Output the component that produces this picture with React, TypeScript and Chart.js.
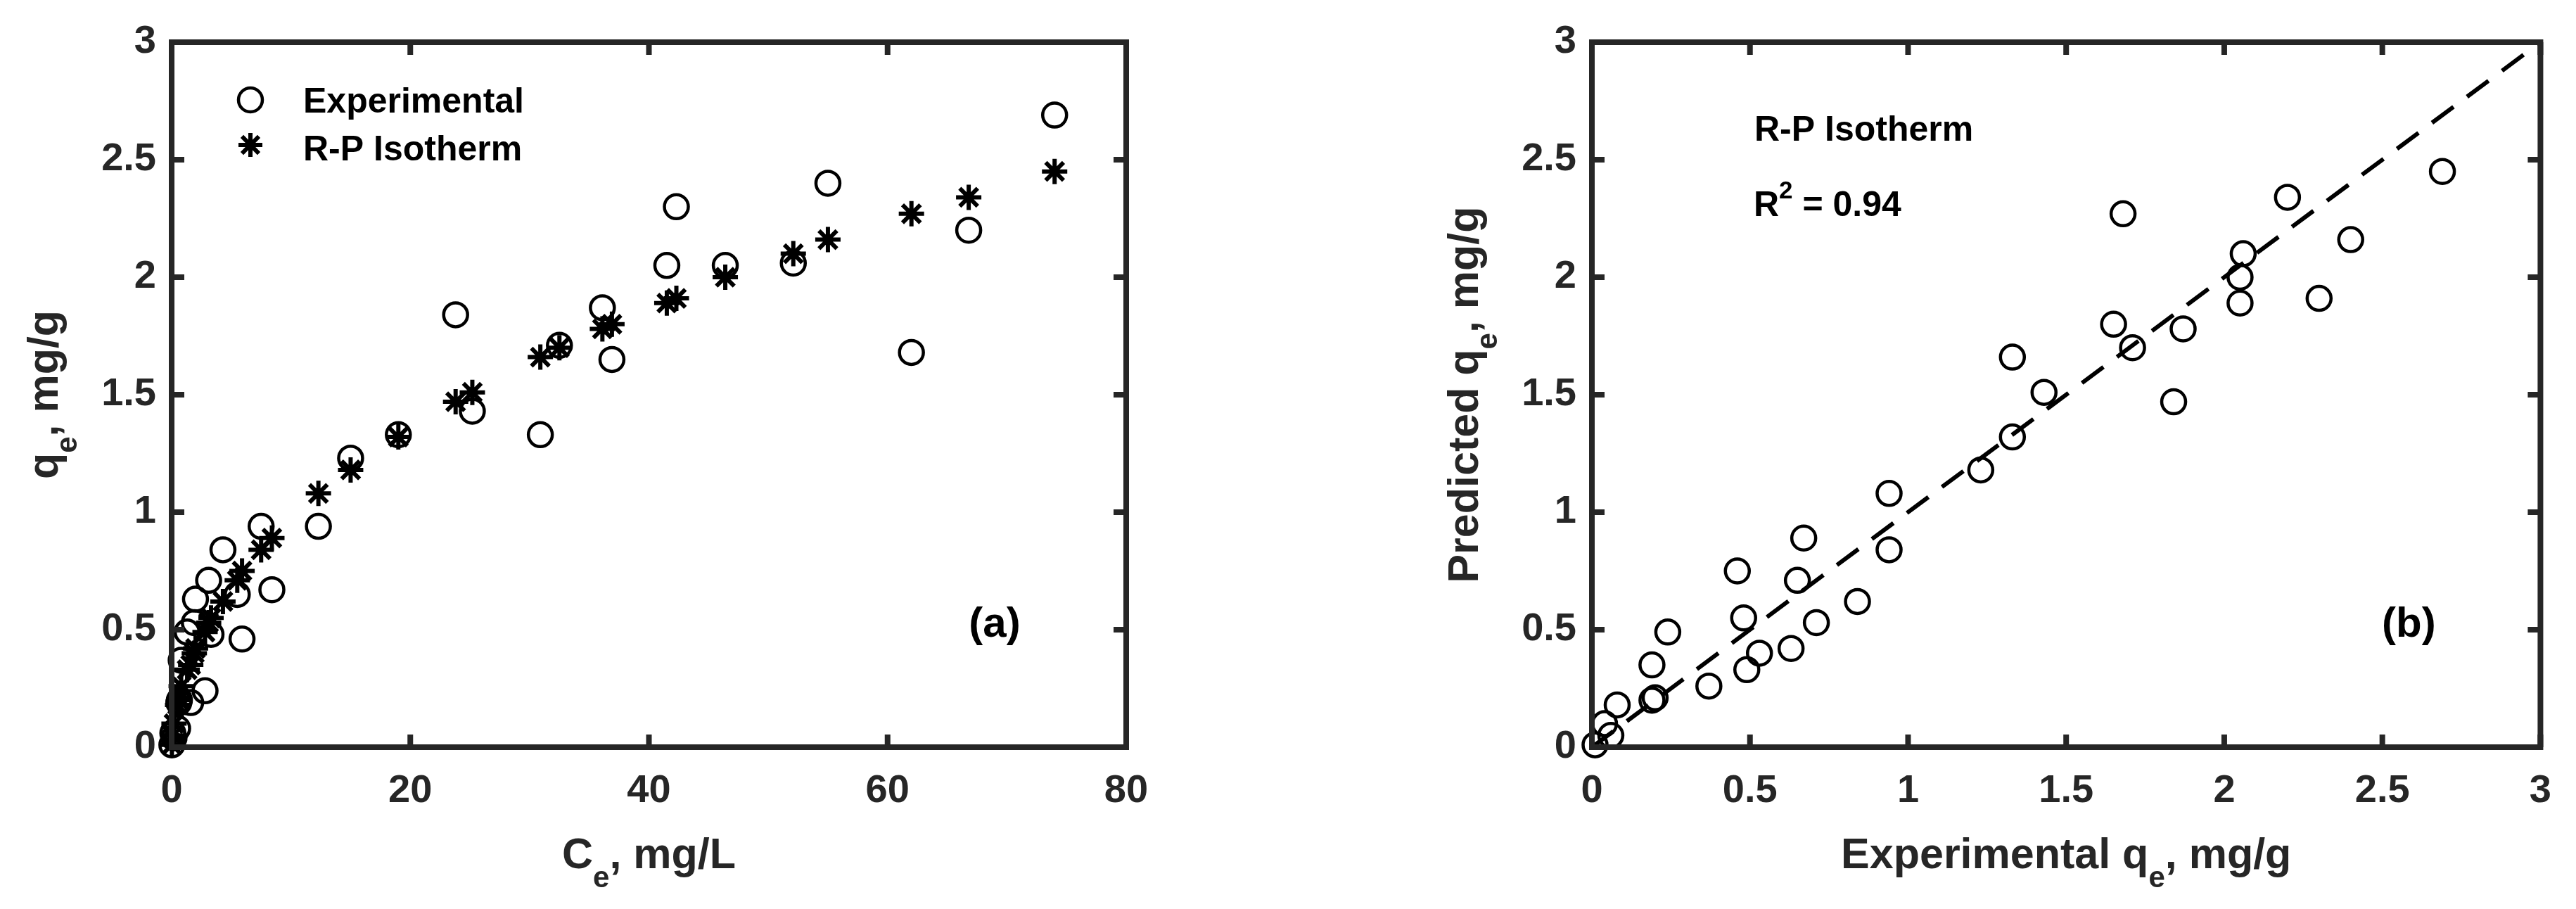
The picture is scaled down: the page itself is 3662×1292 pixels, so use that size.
import React, { useEffect, useRef } from 'react';
import { Chart, registerables } from 'chart.js';

Chart.register(...registerables);

// ---------------- data ----------------
const ceValues = [74.0, 66.8, 62.0, 55.0, 52.1, 46.4, 41.5, 42.3, 36.9, 36.1, 32.5, 30.9, 23.8, 25.2, 19.0, 15.0, 12.3, 7.5, 8.4, 5.5, 5.9, 3.3, 4.3, 3.1, 2.0, 1.9, 1.3, 0.8, 2.8, 1.6, 0.6, 0.65, 0.5, 0.2, 0.1, 0.02];
const qeExperimental = [2.69, 2.20, 1.68, 2.40, 2.06, 2.05, 2.05, 2.30, 1.65, 1.87, 1.71, 1.33, 1.84, 1.43, 1.33, 1.23, 0.94, 0.94, 0.67, 0.65, 0.46, 0.48, 0.84, 0.71, 0.63, 0.53, 0.49, 0.37, 0.24, 0.19, 0.19, 0.20, 0.08, 0.04, 0.06, 0.01];
const qePredicted = [2.45, 2.34, 2.27, 2.16, 2.10, 2.00, 1.89, 1.91, 1.80, 1.78, 1.70, 1.66, 1.47, 1.51, 1.32, 1.18, 1.08, 0.84, 0.89, 0.71, 0.75, 0.55, 0.62, 0.53, 0.42, 0.40, 0.33, 0.26, 0.49, 0.35, 0.20, 0.21, 0.18, 0.10, 0.05, 0.01];
const parityLine = [0, 3];
const ceTicks = [0, 20, 40, 60, 80];
const qeTicks = [0, 0.5, 1, 1.5, 2, 2.5, 3];
const seriesLabels = ['Experimental', 'R-P Isotherm'];
const modelName = 'R-P Isotherm';
const rSquared = '0.94';
const panelTags = ['(a)', '(b)'];

// ---------------- styling ----------------
const FAMILY = '"Liberation Sans", Arial, Helvetica, sans-serif';
const AXIS = '#262626';
const INK = '#000000';
const FIG_W = 3662;
const FIG_H = 1292;
const CANVAS_W = 1831;

type Run = { t: string; k?: 'sub' | 'sup' };

function drawRich(ctx: any, runs: Run[], x: number, y: number, align: 'left' | 'center', main: string, small: string, subDy: number, supDy: number) {
  let w = 0;
  for (const r of runs) {
    ctx.font = r.k ? small : main;
    w += ctx.measureText(r.t).width;
  }
  let cx = align === 'center' ? x - w / 2 : x;
  ctx.textAlign = 'left';
  ctx.textBaseline = 'alphabetic';
  for (const r of runs) {
    ctx.font = r.k ? small : main;
    const dy = r.k === 'sub' ? subDy : r.k === 'sup' ? -supDy : 0;
    ctx.fillText(r.t, cx, y + dy);
    cx += ctx.measureText(r.t).width;
  }
}

function drawFrame(chart: any) {
  const { ctx, chartArea: a, scales } = chart;
  const tl = 18;
  ctx.save();
  ctx.strokeStyle = AXIS;
  ctx.lineWidth = 8;
  ctx.lineCap = 'butt';
  ctx.lineJoin = 'miter';
  ctx.beginPath();
  for (const t of scales.x.ticks) {
    const px = scales.x.getPixelForValue(t.value);
    ctx.moveTo(px, a.bottom);
    ctx.lineTo(px, a.bottom - tl);
    ctx.moveTo(px, a.top);
    ctx.lineTo(px, a.top + tl);
  }
  for (const t of scales.y.ticks) {
    const py = scales.y.getPixelForValue(t.value);
    ctx.moveTo(a.left, py);
    ctx.lineTo(a.left + tl, py);
    ctx.moveTo(a.right, py);
    ctx.lineTo(a.right - tl, py);
  }
  ctx.stroke();
  ctx.strokeRect(a.left, a.top, a.right - a.left, a.bottom - a.top);
  ctx.restore();
}

const TITLE_MAIN = `bold 61px ${FAMILY}`;
const TITLE_SUB = `bold 42px ${FAMILY}`;

function drawAxisTitles(chart: any, xRuns: Run[], yRuns: Run[]) {
  const { ctx, chartArea: a } = chart;
  ctx.save();
  ctx.fillStyle = AXIS;
  drawRich(ctx, xRuns, (a.left + a.right) / 2, a.bottom + 172, 'center', TITLE_MAIN, TITLE_SUB, 27, 0);
  ctx.translate(a.left - 162, (a.top + a.bottom) / 2);
  ctx.rotate(-Math.PI / 2);
  drawRich(ctx, yRuns, 0, 0, 'center', TITLE_MAIN, TITLE_SUB, 27, 0);
  ctx.restore();
}

function drawTag(chart: any, tag: string) {
  const { ctx, chartArea: a } = chart;
  ctx.save();
  ctx.fillStyle = INK;
  ctx.font = `bold 60px ${FAMILY}`;
  ctx.textAlign = 'center';
  ctx.textBaseline = 'alphabetic';
  ctx.fillText(tag, a.right - 187, a.bottom - 157);
  ctx.restore();
}

function drawStar(ctx: any, x: number, y: number, r: number) {
  ctx.beginPath();
  for (let k = 0; k < 4; k++) {
    const ang = (k * Math.PI) / 4;
    ctx.moveTo(x - Math.cos(ang) * r, y - Math.sin(ang) * r);
    ctx.lineTo(x + Math.cos(ang) * r, y + Math.sin(ang) * r);
  }
  ctx.stroke();
}

function baseScale(min: number, max: number, ticks: number[], isX: boolean, size: number, pad: number) {
  return {
    type: 'linear',
    min,
    max,
    afterBuildTicks: (s: any) => {
      s.ticks = ticks.map((v) => ({ value: v }));
    },
    afterFit: (s: any) => {
      if (isX) s.height = size;
      else s.width = size;
    },
    grid: { display: false, drawTicks: false },
    border: { display: false },
    title: { display: false },
    ticks: {
      autoSkip: false,
      maxRotation: 0,
      minRotation: 0,
      padding: pad,
      color: AXIS,
      font: { family: FAMILY, size: 56, weight: 'bold', lineHeight: 1 },
      callback: (v: any) => String(v),
    },
  };
}

function circleStyle() {
  return {
    pointStyle: 'circle',
    pointRadius: 17,
    pointHoverRadius: 17,
    pointBorderWidth: 4.5,
    borderColor: INK,
    backgroundColor: 'rgba(0,0,0,0)',
    showLine: false,
    clip: false,
  };
}

function configA(): any {
  const decor = {
    id: 'decorA',
    afterDraw(chart: any) {
      const { ctx, chartArea: a } = chart;
      drawFrame(chart);
      drawAxisTitles(
        chart,
        [{ t: 'C' }, { t: 'e', k: 'sub' }, { t: ', mg/L' }],
        [{ t: 'q' }, { t: 'e', k: 'sub' }, { t: ', mg/g' }]
      );
      drawTag(chart, panelTags[0]);
      // legend
      ctx.save();
      ctx.strokeStyle = INK;
      ctx.fillStyle = INK;
      ctx.font = `bold 50px ${FAMILY}`;
      ctx.textAlign = 'left';
      ctx.textBaseline = 'alphabetic';
      const mx = a.left + 112;
      const tx = a.left + 187;
      const b1 = a.top + 100;
      const b2 = a.top + 168;
      ctx.lineWidth = 4.5;
      ctx.beginPath();
      ctx.arc(mx, b1 - 18, 17, 0, Math.PI * 2);
      ctx.stroke();
      ctx.lineWidth = 6;
      drawStar(ctx, mx, b2 - 22, 17);
      ctx.fillText(seriesLabels[0], tx, b1);
      ctx.fillText(seriesLabels[1], tx, b2);
      ctx.restore();
    },
  };
  return {
    type: 'scatter',
    data: {
      datasets: [
        {
          label: seriesLabels[0],
          data: ceValues.map((c, i) => ({ x: c, y: qeExperimental[i] })),
          ...circleStyle(),
        },
        {
          label: seriesLabels[1],
          data: ceValues.map((c, i) => ({ x: c, y: qePredicted[i] })),
          pointStyle: 'star',
          pointRadius: 18,
          pointHoverRadius: 18,
          pointBorderWidth: 6,
          borderColor: INK,
          backgroundColor: INK,
          showLine: false,
          clip: false,
        },
      ],
    },
    options: {
      animation: false,
      responsive: false,
      maintainAspectRatio: false,
      events: [],
      layout: { padding: { left: 0, right: CANVAS_W - 1601, top: 60, bottom: 0 } },
      plugins: { legend: { display: false }, tooltip: { enabled: false } },
      scales: {
        x: baseScale(0, 80, ceTicks, true, FIG_H - 1062, 35),
        y: baseScale(0, 3, qeTicks, false, 244, 22),
      },
    },
    plugins: [decor],
  };
}

function configB(): any {
  const decor = {
    id: 'decorB',
    afterDraw(chart: any) {
      const { ctx, chartArea: a } = chart;
      drawFrame(chart);
      drawAxisTitles(
        chart,
        [{ t: 'Experimental q' }, { t: 'e', k: 'sub' }, { t: ', mg/g' }],
        [{ t: 'Predicted q' }, { t: 'e', k: 'sub' }, { t: ', mg/g' }]
      );
      drawTag(chart, panelTags[1]);
      ctx.save();
      ctx.fillStyle = INK;
      const main = `bold 50px ${FAMILY}`;
      const small = `bold 35px ${FAMILY}`;
      drawRich(ctx, [{ t: modelName }], a.left + 231, a.top + 140, 'left', main, small, 0, 0);
      drawRich(ctx, [{ t: 'R' }, { t: '2', k: 'sup' }, { t: ' = ' + rSquared }], a.left + 230, a.top + 247, 'left', main, small, 0, 25);
      ctx.restore();
    },
  };
  return {
    type: 'scatter',
    data: {
      datasets: [
        {
          label: 'Predicted vs experimental',
          data: qeExperimental.map((e, i) => ({ x: e, y: qePredicted[i] })),
          ...circleStyle(),
        },
        {
          label: '1:1 line',
          data: parityLine.map((v) => ({ x: v, y: v })),
          showLine: true,
          borderColor: INK,
          borderWidth: 6,
          borderDash: [38, 24],
          pointRadius: 0,
          pointHoverRadius: 0,
          clip: false,
        },
      ],
    },
    options: {
      animation: false,
      responsive: false,
      maintainAspectRatio: false,
      events: [],
      layout: { padding: { left: 0, right: CANVAS_W - (3619 - CANVAS_W), top: 60, bottom: 0 } },
      plugins: { legend: { display: false }, tooltip: { enabled: false } },
      scales: {
        x: baseScale(0, 3, qeTicks, true, FIG_H - 1062, 35),
        y: baseScale(0, 3, qeTicks, false, 2263 - CANVAS_W, 22),
      },
    },
    plugins: [decor],
  };
}

function Panel({ left, build }: { left: number; build: () => any }) {
  const ref = useRef<HTMLCanvasElement | null>(null);
  useEffect(() => {
    const chart = new Chart(ref.current as HTMLCanvasElement, build());
    return () => chart.destroy();
  }, []);
  return (
    <canvas
      ref={ref}
      width={CANVAS_W}
      height={FIG_H}
      style={{ position: 'absolute', left, top: 0, width: CANVAS_W, height: FIG_H }}
    />
  );
}

export default function App() {
  return (
    <div style={{ position: 'absolute', left: 0, top: 0, width: FIG_W, height: FIG_H, background: '#ffffff', overflow: 'hidden' }}>
      <Panel left={0} build={configA} />
      <Panel left={CANVAS_W} build={configB} />
    </div>
  );
}
